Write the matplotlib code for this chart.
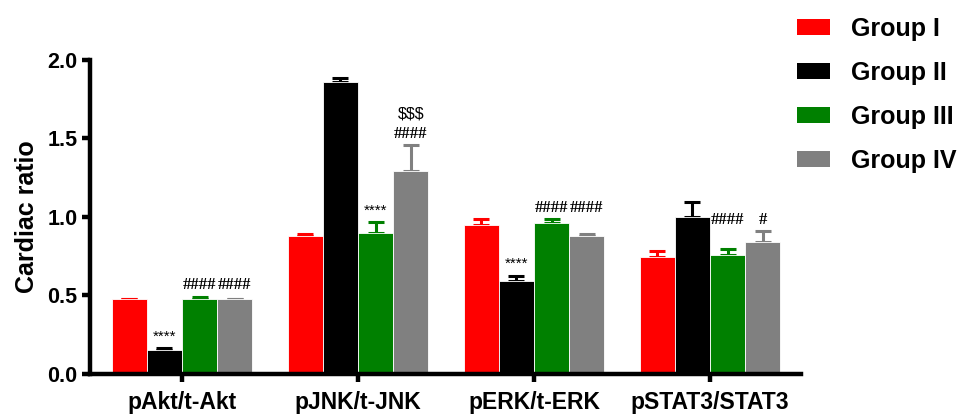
import numpy as np
import matplotlib
matplotlib.use("Agg")
import matplotlib.pyplot as plt
from matplotlib.patches import Patch

plt.rcParams['font.family'] = ['Liberation Sans', 'DejaVu Sans']

# 各指标与分组
categories = ['pAkt/t-Akt', 'pJNK/t-JNK', 'pERK/t-ERK', 'pSTAT3/STAT3']
groups = ['Group I', 'Group II', 'Group III', 'Group IV']
colors = ['#ff0000', '#000000', '#008000', '#808080']

# 每组均值 (按指标顺序)
group1 = [0.48, 0.875, 0.95, 0.745]
group2 = [0.15, 1.86, 0.59, 1.0]
group3 = [0.48, 0.90, 0.96, 0.755]
group4 = [0.48, 1.29, 0.88, 0.84]

# 标准误 (只画上半)
err1 = [0.0, 0.015, 0.035, 0.04]
err2 = [0.012, 0.027, 0.035, 0.092]
err3 = [0.012, 0.065, 0.025, 0.04]
err4 = [0.0, 0.165, 0.012, 0.07]

# 显著性标记: (指标, 分组, 文字列表自下而上)
marks = [
    (0, 1, ['****']), (0, 2, ['####']), (0, 3, ['####']),
    (1, 2, ['****']), (1, 3, ['####', '$$$']),
    (2, 1, ['****']), (2, 2, ['####']), (2, 3, ['####']),
    (3, 2, ['####']), (3, 3, ['#']),
]

means = [group1, group2, group3, group4]
errs = [err1, err2, err3, err4]

fig = plt.figure(figsize=(9.58, 4.15), dpi=100)
ax = fig.add_axes([0.094, 0.099, 0.742, 0.757])

x = np.arange(len(categories))
width = 0.2
for i in range(len(groups)):
    pos = x + (i - 1.5) * width
    ax.bar(pos, means[i], width, color=colors[i], edgecolor='white', linewidth=0.6, zorder=2)
    ax.errorbar(pos, means[i], yerr=[np.zeros(len(x)), errs[i]], fmt='none',
                ecolor=colors[i], elinewidth=2.2, capsize=6, capthick=2.2, zorder=1)


def bar_top(ci, gi):
    return means[gi][ci] + errs[gi][ci]


# 同一指标里的 # 标记对齐到最高的那根柱子
hash_base = {}
for ci, gi, texts in marks:
    if texts[0].startswith('#'):
        hash_base[ci] = max(hash_base.get(ci, 0), bar_top(ci, gi))

for ci, gi, texts in marks:
    xpos = x[ci] + (gi - 1.5) * width
    if texts[0] == '****':
        ax.text(xpos, bar_top(ci, gi) + 0.03, texts[0], ha='center', va='bottom', fontsize=11)
        continue
    base = hash_base[ci] + 0.02
    for k, t in enumerate(texts):
        if t.startswith('#'):
            ax.text(xpos, base, t, ha='center', va='bottom', fontsize=12,
                    family='Liberation Serif', fontweight='bold')
        else:
            ax.text(xpos, base + k * 0.135, t, ha='center', va='bottom', fontsize=11.5)

ax.set_xlim(-0.523, 3.517)
ax.set_ylim(0, 2.0)
ax.set_yticks([0, 0.5, 1.0, 1.5, 2.0])
ax.set_yticklabels(['0.0', '0.5', '1.0', '1.5', '2.0'])
ax.set_xticks(x)
ax.set_xticklabels(categories)
for s in ['top', 'right']:
    ax.spines[s].set_visible(False)
for s in ['left', 'bottom']:
    ax.spines[s].set_linewidth(3.2)
ax.tick_params(axis='y', width=3.2, length=6, labelsize=15.5, pad=3)
ax.tick_params(axis='x', width=3.2, length=6, labelsize=16.5, pad=6)
for lab in ax.get_xticklabels() + ax.get_yticklabels():
    lab.set_fontweight('bold')
ax.set_ylabel('Cardiac ratio', fontsize=18, fontweight='bold', labelpad=6)

handles = [Patch(facecolor=c) for c in colors]
fig.legend(handles, groups, loc='upper left', bbox_to_anchor=(797 / 958, 0.96), frameon=False,
           prop={'size': 18, 'weight': 'bold'}, handlelength=1.32, handleheight=0.64,
           labelspacing=0.8, handletextpad=0.85, borderpad=0, borderaxespad=0)

fig.savefig('out.png', dpi=100)
